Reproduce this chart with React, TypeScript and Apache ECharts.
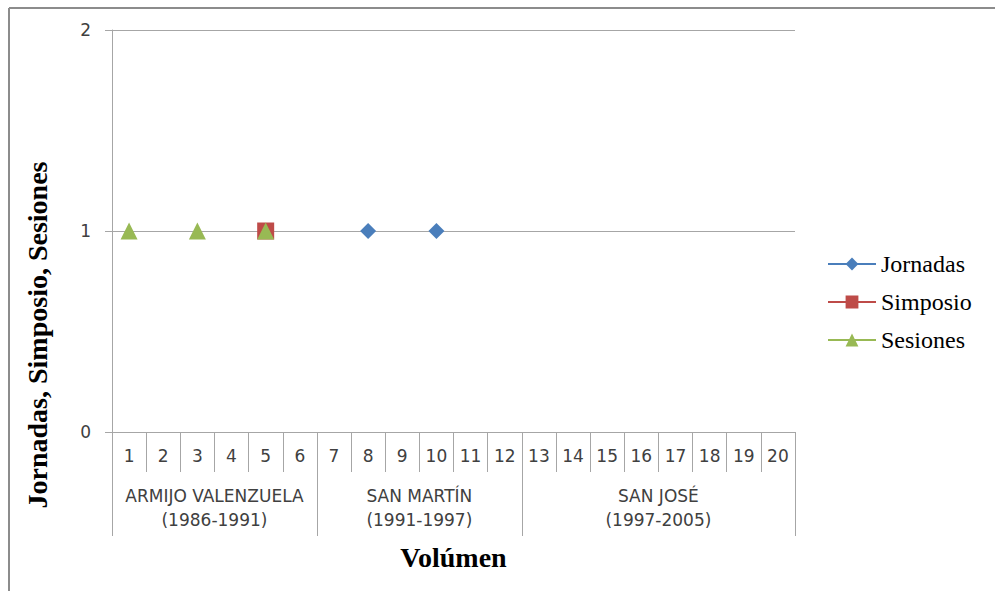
import React, { useEffect, useRef } from "react";
import * as echarts from "echarts";

const categories = ["1","2","3","4","5","6","7","8","9","10","11","12","13","14","15","16","17","18","19","20"];
const jornadas = [null,null,null,null,null,null,null,1,null,1,null,null,null,null,null,null,null,null,null,null];
const simposio = [null,null,null,null,1,null,null,null,null,null,null,null,null,null,null,null,null,null,null,null];
const sesiones = [1,null,1,null,1,null,null,null,null,null,null,null,null,null,null,null,null,null,null,null];
const groupBounds = [0, 6, 12, 20];
const groupCenters = [3, 9, 16];
const groupLabels = ["ARMIJO VALENZUELA\n(1986-1991)", "SAN MARTÍN\n(1991-1997)", "SAN JOSÉ\n(1997-2005)"];
const yTicks = [0, 1, 2];

const GRID = "#a6a6a6";
const LABEL = "#404040";
const SANS = "'DejaVu Sans', 'Open Sans', sans-serif";
const SERIF = "'Liberation Serif', 'DejaVu Serif', serif";

export default function App() {
  const ref = useRef<HTMLDivElement>(null);
  useEffect(() => {
    if (!ref.current) return;
    const chart = echarts.init(ref.current, null, { renderer: "svg" });
    chart.setOption({
      animation: false,
      backgroundColor: "#ffffff",
      grid: { left: 112, top: 30, width: 683, height: 402, outerBoundsMode: "none" },
      legend: {
        orient: "vertical",
        left: 822,
        top: 247,
        itemWidth: 48,
        itemHeight: 16,
        itemGap: 14,
        textStyle: { fontFamily: SERIF, fontSize: 24, color: "#000", lineHeight: 24 },
        data: ["Jornadas", "Simposio", "Sesiones"],
      },
      xAxis: [
        {
          type: "category",
          data: categories,
          boundaryGap: true,
          axisLine: { show: true, lineStyle: { color: GRID, width: 1 } },
          axisTick: { show: true, interval: 0, length: 40, lineStyle: { color: GRID } },
          axisLabel: { interval: 0, margin: 15, fontFamily: SANS, fontSize: 17, color: LABEL },
          splitLine: { show: false },
        },
        {
          type: "value",
          position: "bottom",
          min: 0,
          max: 20,
          axisLine: { show: false },
          splitLine: { show: false },
          axisTick: { show: true, customValues: groupBounds, length: 104, lineStyle: { color: GRID } },
          axisLabel: {
            customValues: groupCenters,
            formatter: (v: number) => groupLabels[groupCenters.indexOf(v)] ?? "",
            margin: 52,
            lineHeight: 24,
            fontFamily: SANS,
            fontSize: 17,
            color: LABEL,
          },
          name: "Volúmen",
          nameLocation: "middle",
          nameGap: 111,
          nameTextStyle: { fontFamily: SERIF, fontSize: 28, fontWeight: "bold", color: "#000" },
        },
      ],
      yAxis: {
        type: "value",
        min: 0,
        max: 2,
        interval: 1,
        axisLine: { show: true, lineStyle: { color: GRID } },
        axisTick: { show: true, length: 7, lineStyle: { color: GRID } },
        axisLabel: {
          margin: 21,
          fontFamily: SANS,
          fontSize: 17,
          color: LABEL,
          formatter: (v: number) => (yTicks.includes(v) ? String(v) : ""),
        },
        splitLine: { show: true, lineStyle: { color: GRID } },
      },
      graphic: [
        { type: "line", shape: { x1: 9, y1: 8, x2: 1000, y2: 8 }, style: { stroke: "#8c8c8c", lineWidth: 2 } },
        { type: "line", shape: { x1: 9, y1: 8, x2: 9, y2: 600 }, style: { stroke: "#8c8c8c", lineWidth: 2 } },
        {
          type: "text",
          x: 37,
          y: 335,
          rotation: Math.PI / 2,
          style: {
            text: "Jornadas, Simposio, Sesiones",
            fontFamily: SERIF,
            fontSize: 28,
            fontWeight: "bold",
            fill: "#000",
            textAlign: "center",
            textVerticalAlign: "middle",
          },
        },
      ],
      series: [
        {
          name: "Jornadas",
          type: "line",
          data: jornadas,
          symbol: "diamond",
          symbolSize: 16,
          connectNulls: false,
          itemStyle: { color: "#4a7ebb" },
          lineStyle: { color: "#4a7ebb", width: 3 },
        },
        {
          name: "Simposio",
          type: "line",
          data: simposio,
          symbol: "rect",
          symbolSize: 17,
          connectNulls: false,
          itemStyle: { color: "#be4b48" },
          lineStyle: { color: "#be4b48", width: 3 },
        },
        {
          name: "Sesiones",
          type: "line",
          data: sesiones,
          symbol: "triangle",
          symbolSize: 17,
          connectNulls: false,
          itemStyle: { color: "#98b954" },
          lineStyle: { color: "#98b954", width: 3 },
        },
      ],
    });
    return () => chart.dispose();
  }, []);
  return (
    <div
      ref={ref}
      style={{ position: "fixed", left: 0, top: 0, width: 995, height: 591, background: "#fff" }}
    />
  );
}
